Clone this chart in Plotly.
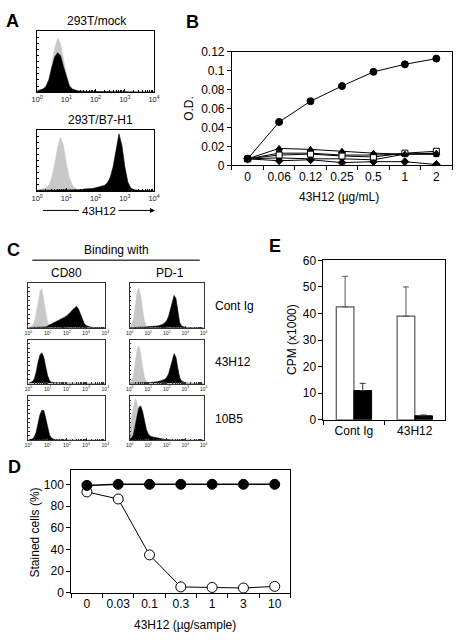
import plotly.graph_objects as go

W, H = 460, 640
FONT = "Liberation Sans, Arial, sans-serif"

# ---------------- data ----------------
# flow histograms: relative counts (% of panel height) on 0.1-decade bins, 10^0 .. 10^4
HIST_DECADES = [i / 10 for i in range(41)]

A1_gray = [2, 3, 5, 10, 22, 45, 72, 89, 80, 55,
           30, 14, 6, 3, 2, 1, 0, 0, 0, 0,
           0, 0, 0, 0, 0, 0, 0, 0, 0, 0,
           0, 0, 0, 0, 0, 0, 0, 0, 0, 0, 0]
A1_black = [2, 3, 5, 9, 20, 40, 58, 65, 60, 42,
            24, 10, 5, 3, 2, 1.5, 1, 1, 1, 1,
            1, 1, 1, 1, 1, 1, 1, 1, 1, 1,
            1, 1, 1, 1, 0.5, 0.5, 0.5, 0.5, 0.5, 0.5, 0]
A2_gray = [1, 2, 3, 5, 10, 22, 45, 72, 89, 75,
           45, 22, 10, 4, 2, 1, 0, 0, 0, 0,
           0, 0, 0, 0, 0, 0, 0, 0, 0, 0,
           0, 0, 0, 0, 0, 0, 0, 0, 0, 0, 0]
A2_black = [1, 1, 1, 1, 1, 1, 1, 1, 1, 1,
            1, 1, 1, 1.5, 2, 2, 3, 3, 4, 4,
            5, 6, 7, 9, 13, 22, 40, 70, 94, 75,
            40, 15, 5, 2, 1, 1, 1, 1, 0.5, 0.5, 0]

C11_gray = [1, 2, 5, 12, 30, 58, 80, 87, 65, 35,
            12, 4, 1, 0, 0, 0, 0, 0, 0, 0,
            0, 0, 0, 0, 0, 0, 0, 0, 0, 0,
            0, 0, 0, 0, 0, 0, 0, 0, 0, 0, 0]
C11_black = [0.5, 0.5, 0.5, 0.5, 0.5, 0.5, 0.5, 0.5, 1, 2,
             4, 7, 9, 11, 13, 15, 17, 19, 22, 24,
             27, 30, 35, 40, 45, 48, 42, 30, 18, 10,
             5, 3, 2, 1, 1, 0.5, 0.5, 0.5, 0.5, 0.5, 0]
C12_gray = [2, 6, 20, 50, 80, 89, 70, 40, 15, 5,
            2, 1, 0, 0, 0, 0, 0, 0, 0, 0,
            0, 0, 0, 0, 0, 0, 0, 0, 0, 0,
            0, 0, 0, 0, 0, 0, 0, 0, 0, 0, 0]
C12_black = [0.5, 0.5, 0.5, 0.5, 0.5, 0.5, 0.5, 0.5, 0.5, 0.5,
             2, 3, 3, 3, 4, 4, 5, 6, 8, 11,
             16, 25, 42, 62, 72, 65, 35, 12, 4, 2,
             1, 0.5, 0.5, 0.5, 0.5, 0.5, 0.5, 0.5, 0.5, 0.5, 0]
C21_black = [1, 2, 4, 10, 25, 48, 65, 70, 60, 38,
             18, 7, 3, 2, 1.5, 1, 1, 1, 1, 1,
             1, 1, 1, 1, 1, 1, 1, 0.5, 0.5, 0.5,
             0.5, 0.5, 0.5, 0.5, 0.5, 0.5, 0.5, 0.5, 0.5, 0.5, 0]
C22_gray = [2, 6, 20, 50, 78, 86, 68, 38, 14, 5,
            2, 1, 0, 0, 0, 0, 0, 0, 0, 0,
            0, 0, 0, 0, 0, 0, 0, 0, 0, 0,
            0, 0, 0, 0, 0, 0, 0, 0, 0, 0, 0]
C22_black = [0.5, 0.5, 0.5, 0.5, 0.5, 0.5, 0.5, 0.5, 0.5, 0.5,
             1, 2, 3, 3, 4, 4, 5, 6, 8, 10,
             14, 22, 35, 52, 68, 60, 35, 14, 6, 3,
             2, 1, 0.5, 0.5, 0.5, 0.5, 0.5, 0.5, 0.5, 0.5, 0]
C31_black = [1, 2, 3, 7, 18, 38, 58, 68, 68, 50,
             28, 12, 5, 2, 1, 1, 0.5, 0.5, 0.5, 0.5,
             0.5, 0.5, 0.5, 0.5, 0.5, 0.5, 0.5, 0.5, 0.5, 0.5,
             0.5, 0.5, 0.5, 0.5, 0.5, 0.5, 0.5, 0.5, 0.5, 0.5, 0]
C32_gray = [30, 55, 80, 95, 85, 55, 30, 12, 4, 2,
            1, 0, 0, 0, 0, 0, 0, 0, 0, 0,
            0, 0, 0, 0, 0, 0, 0, 0, 0, 0,
            0, 0, 0, 0, 0, 0, 0, 0, 0, 0, 0]
C32_black = [3, 6, 12, 30, 55, 75, 78, 65, 42, 25,
             15, 10, 8, 7, 6, 5, 4, 3, 3, 2,
             2, 1, 1, 0.5, 0.5, 0.5, 0.5, 0.5, 0.5, 0.5,
             0.5, 0.5, 0.5, 0.5, 0.5, 0.5, 0.5, 0.5, 0.5, 0.5, 0]

LOG_TICKVALS = [1, 10, 100, 1000, 10000]
LOG_TICKTEXT = ["10<sup>0</sup>", "10<sup>1</sup>", "10<sup>2</sup>",
                "10<sup>3</sup>", "10<sup>4</sup>"]

# Panel B
B_conc = ["0", "0.06", "0.12", "0.25", "0.5", "1", "2"]
B_main = [0.007, 0.046, 0.068, 0.084, 0.099, 0.107, 0.113]
B_main_err = [0.0005, 0.001, 0.001, 0.001, 0.002, 0.003, 0.0015]
B_triangle = [0.007, 0.018, 0.017, 0.015, 0.013, 0.012, 0.013]
B_open_sq = [0.007, 0.011, 0.012, 0.010, 0.009, 0.013, 0.015]
B_filled_sq = [0.007, 0.013, 0.013, 0.011, 0.011, 0.012, 0.012]
B_small = [0.007, 0.008, 0.007, 0.007, 0.006, 0.012, 0.012]
B_diamond = [0.007, 0.005, 0.006, 0.003, 0.004, 0.004, 0.001]

# Panel D
D_dose = ["0", "0.03", "0.1", "0.3", "1", "3", "10"]
D_filled = [99, 100, 100, 100, 100, 100, 100]
D_open = [93, 86.5, 35, 5.5, 5, 4.5, 6]

# Panel E
E_groups = ["Cont Ig", "43H12"]
E_open = [42.5, 39]
E_open_err = [11.5, 11]
E_filled = [11, 1.5]
E_filled_err = [2.7, 0.3]


# ---------------- helpers ----------------
def dx(l, r):
    return [l / W, r / W]


def dy(t, b):
    return [1 - b / H, 1 - t / H]


def px(x):
    return x / W


def py(y):
    return 1 - y / H


def axid(n):
    return ("x", "y") if n == 1 else (f"x{n}", f"y{n}")


def axkey(n):
    return ("xaxis", "yaxis") if n == 1 else (f"xaxis{n}", f"yaxis{n}")


fig = go.Figure()
layout_axes = {}

HIST_X = [10 ** d for d in HIST_DECADES]
MINOR_LOG = [m * 10 ** e for e in range(4) for m in range(2, 10)]


def hist_panel(n, box, gray, black, tickfont, framecol, ticklen):
    xa, ya = axid(n)
    xk, yk = axkey(n)
    l, r, t, b = box
    if gray is not None:
        fig.add_trace(go.Scatter(x=HIST_X, y=gray, mode="lines", fill="tozeroy",
                                 fillcolor="#c8c8c8", line=dict(color="#c8c8c8", width=0.5),
                                 xaxis=xa, yaxis=ya, hoverinfo="skip", showlegend=False))
    fig.add_trace(go.Scatter(x=HIST_X, y=black, mode="lines", fill="tozeroy",
                             fillcolor="black", line=dict(color="black", width=0.6),
                             xaxis=xa, yaxis=ya, hoverinfo="skip", showlegend=False))
    layout_axes[xk] = dict(domain=dx(l, r), anchor=ya, type="log", range=[0, 4],
                           showline=True, mirror=True, linecolor=framecol, linewidth=1,
                           ticks="inside", ticklen=ticklen, tickcolor=framecol, tickwidth=0.7,
                           tickvals=LOG_TICKVALS, ticktext=LOG_TICKTEXT, tickangle=0,
                           tickfont=dict(size=tickfont, family=FONT, color="#222"),
                           showgrid=False, zeroline=False, ticklabelstandoff=0,
                           minor=dict(tickvals=MINOR_LOG, ticks="inside", ticklen=ticklen * 0.6,
                                      tickcolor=framecol, tickwidth=0.5, showgrid=False))
    layout_axes[yk] = dict(domain=dy(t, b), anchor=xa, range=[0, 100],
                           showline=True, mirror=True, linecolor=framecol, linewidth=1,
                           ticks="inside", ticklen=ticklen * 0.7, dtick=10, tickcolor=framecol,
                           tickwidth=0.5, showticklabels=False, showgrid=False, zeroline=False)


# Panel A
hist_panel(1, (32, 152, 25, 87), A1_gray, A1_black, 7.5, "black", 3)
hist_panel(2, (32, 152, 126, 188), A2_gray, A2_black, 7.5, "black", 3)

# Panel C
CL, CR = (23, 102), (127, 203)
ROWS = [(282, 328), (340, 385), (398, 443)]
hist_panel(4, (CL[0], CL[1], ROWS[0][0], ROWS[0][1]), C11_gray, C11_black, 5, "#333", 2)
hist_panel(5, (CR[0], CR[1], ROWS[0][0], ROWS[0][1]), C12_gray, C12_black, 5, "#333", 2)
hist_panel(6, (CL[0], CL[1], ROWS[1][0], ROWS[1][1]), None, C21_black, 5, "#333", 2)
hist_panel(7, (CR[0], CR[1], ROWS[1][0], ROWS[1][1]), C22_gray, C22_black, 5, "#333", 2)
hist_panel(8, (CL[0], CL[1], ROWS[2][0], ROWS[2][1]), None, C31_black, 5, "#333", 2)
hist_panel(9, (CR[0], CR[1], ROWS[2][0], ROWS[2][1]), C32_gray, C32_black, 5, "#333", 2)

# Panel B
def line_trace(x, y, xa, ya, symbol, size, fill, err=None, lw=1):
    return go.Scatter(x=x, y=y, mode="lines+markers", xaxis=xa, yaxis=ya,
                      line=dict(color="black", width=lw),
                      marker=dict(symbol=symbol, size=size, color=fill,
                                  line=dict(color="black", width=1)),
                      error_y=(dict(type="data", array=err, color="black", thickness=1, width=2)
                               if err is not None else None),
                      hoverinfo="skip", showlegend=False)


fig.add_trace(line_trace(B_conc, B_diamond, "x3", "y3", "diamond", 6, "black"))
fig.add_trace(line_trace(B_conc, B_small, "x3", "y3", "circle", 4, "black"))
fig.add_trace(line_trace(B_conc, B_filled_sq, "x3", "y3", "square", 5, "black"))
fig.add_trace(line_trace(B_conc, B_open_sq, "x3", "y3", "square", 6, "white"))
fig.add_trace(line_trace(B_conc, B_triangle, "x3", "y3", "triangle-up", 6, "black"))
fig.add_trace(line_trace(B_conc, B_main, "x3", "y3", "circle", 7, "black", B_main_err))

AX_COMMON = dict(showline=True, mirror=True, linecolor="black", linewidth=1,
                 ticks="outside", ticklen=4, tickcolor="black", tickangle=0,
                 tickfont=dict(size=12, family=FONT, color="black"),
                 showgrid=False, zeroline=False)
layout_axes["xaxis3"] = dict(AX_COMMON, domain=dx(232, 458), anchor="y3", type="category",
                             range=[-0.5, 6.5], tickson="boundaries")
layout_axes["yaxis3"] = dict(AX_COMMON, domain=dy(46, 162), anchor="x3", range=[0, 0.12],
                             dtick=0.02)

# Panel D
fig.add_trace(line_trace(D_dose, D_open, "x10", "y10", "circle", 10, "white"))
fig.add_trace(line_trace(D_dose, D_filled, "x10", "y10", "circle", 10, "black", lw=1.5))
layout_axes["xaxis10"] = dict(AX_COMMON, domain=dx(67, 292), anchor="y10", type="category",
                              range=[-0.5, 6.5], tickson="boundaries")
layout_axes["yaxis10"] = dict(AX_COMMON, domain=dy(473, 599), anchor="x10", range=[0, 113.5],
                              dtick=20)

# Panel E
fig.add_trace(go.Bar(x=E_groups, y=E_open, xaxis="x11", yaxis="y11",
                     marker=dict(color="white", line=dict(color="#555", width=1.2)),
                     error_y=dict(type="data", array=E_open_err, arrayminus=[0, 0],
                                  symmetric=False, color="#555", thickness=1, width=3),
                     hoverinfo="skip", showlegend=False))
fig.add_trace(go.Bar(x=E_groups, y=E_filled, xaxis="x11", yaxis="y11",
                     marker=dict(color="black", line=dict(color="black", width=1)),
                     error_y=dict(type="data", array=E_filled_err, arrayminus=[0, 0],
                                  symmetric=False, color="#333", thickness=1, width=3),
                     hoverinfo="skip", showlegend=False))
layout_axes["xaxis11"] = dict(AX_COMMON, domain=dx(326, 451), anchor="y11", type="category",
                              range=[-0.5, 1.5], tickson="boundaries")
layout_axes["yaxis11"] = dict(AX_COMMON, domain=dy(259, 422), anchor="x11", range=[0, 60],
                              dtick=10)

# ---------------- text ----------------
ann = []


def text(x, y, s, size=12, bold=False, angle=0, xanchor="center"):
    ann.append(dict(x=px(x), y=py(y), xref="paper", yref="paper", text=(f"<b>{s}</b>" if bold else s),
                    showarrow=False, xanchor=xanchor, yanchor="middle", textangle=angle,
                    font=dict(size=size, family=FONT, color="black")))


for lab, (x, y) in {"A": (7, 14), "B": (192, 15), "C": (8, 248), "D": (9, 470), "E": (276, 244)}.items():
    text(x, y, lab, size=18, bold=True)

text(93, 14, "293T/mock")
text(97, 116, "293T/B7-H1")
text(95, 208.5, "43H12", size=11.5)
text(113, 248, "Binding with")
text(62, 272, "CD80")
text(168, 272, "PD-1")
text(213, 306, "Cont Ig", xanchor="left")
text(213, 363, "43H12", xanchor="left")
text(213, 421, "10B5", xanchor="left")

text(188, 104, "O.D.", angle=-90)
text(342, 194, "43H12 (µg/mL)")
text(30, 537, "Stained cells (%)", angle=-90)
text(184, 632, "43H12 (µg/sample)")
text(293, 340, "CPM (x1000)", angle=-90)

# arrow for 43H12 in panel A
ann.append(dict(x=px(153), y=py(208), ax=-38, ay=0, xref="paper", yref="paper",
                axref="pixel", ayref="pixel", text="", showarrow=True, arrowhead=2,
                arrowsize=1, arrowwidth=1, arrowcolor="black"))

shapes = [
    dict(type="line", xref="paper", yref="paper", x0=px(38), x1=px(75), y0=py(208), y1=py(208),
         line=dict(color="black", width=1)),
    dict(type="line", xref="paper", yref="paper", x0=px(27), x1=px(199), y0=py(259), y1=py(259),
         line=dict(color="#444", width=1.5)),
]

fig.update_layout(
    width=W, height=H, autosize=False,
    margin=dict(l=0, r=0, t=0, b=0),
    paper_bgcolor="white", plot_bgcolor="white",
    font=dict(family=FONT, size=12, color="black"),
    showlegend=False, barmode="group", bargap=0.42, bargroupgap=0,
    annotations=ann, shapes=shapes,
    **layout_axes,
)

fig.write_html("out.html", config={"displayModeBar": False},
               post_script="document.body.style.margin='0';")
